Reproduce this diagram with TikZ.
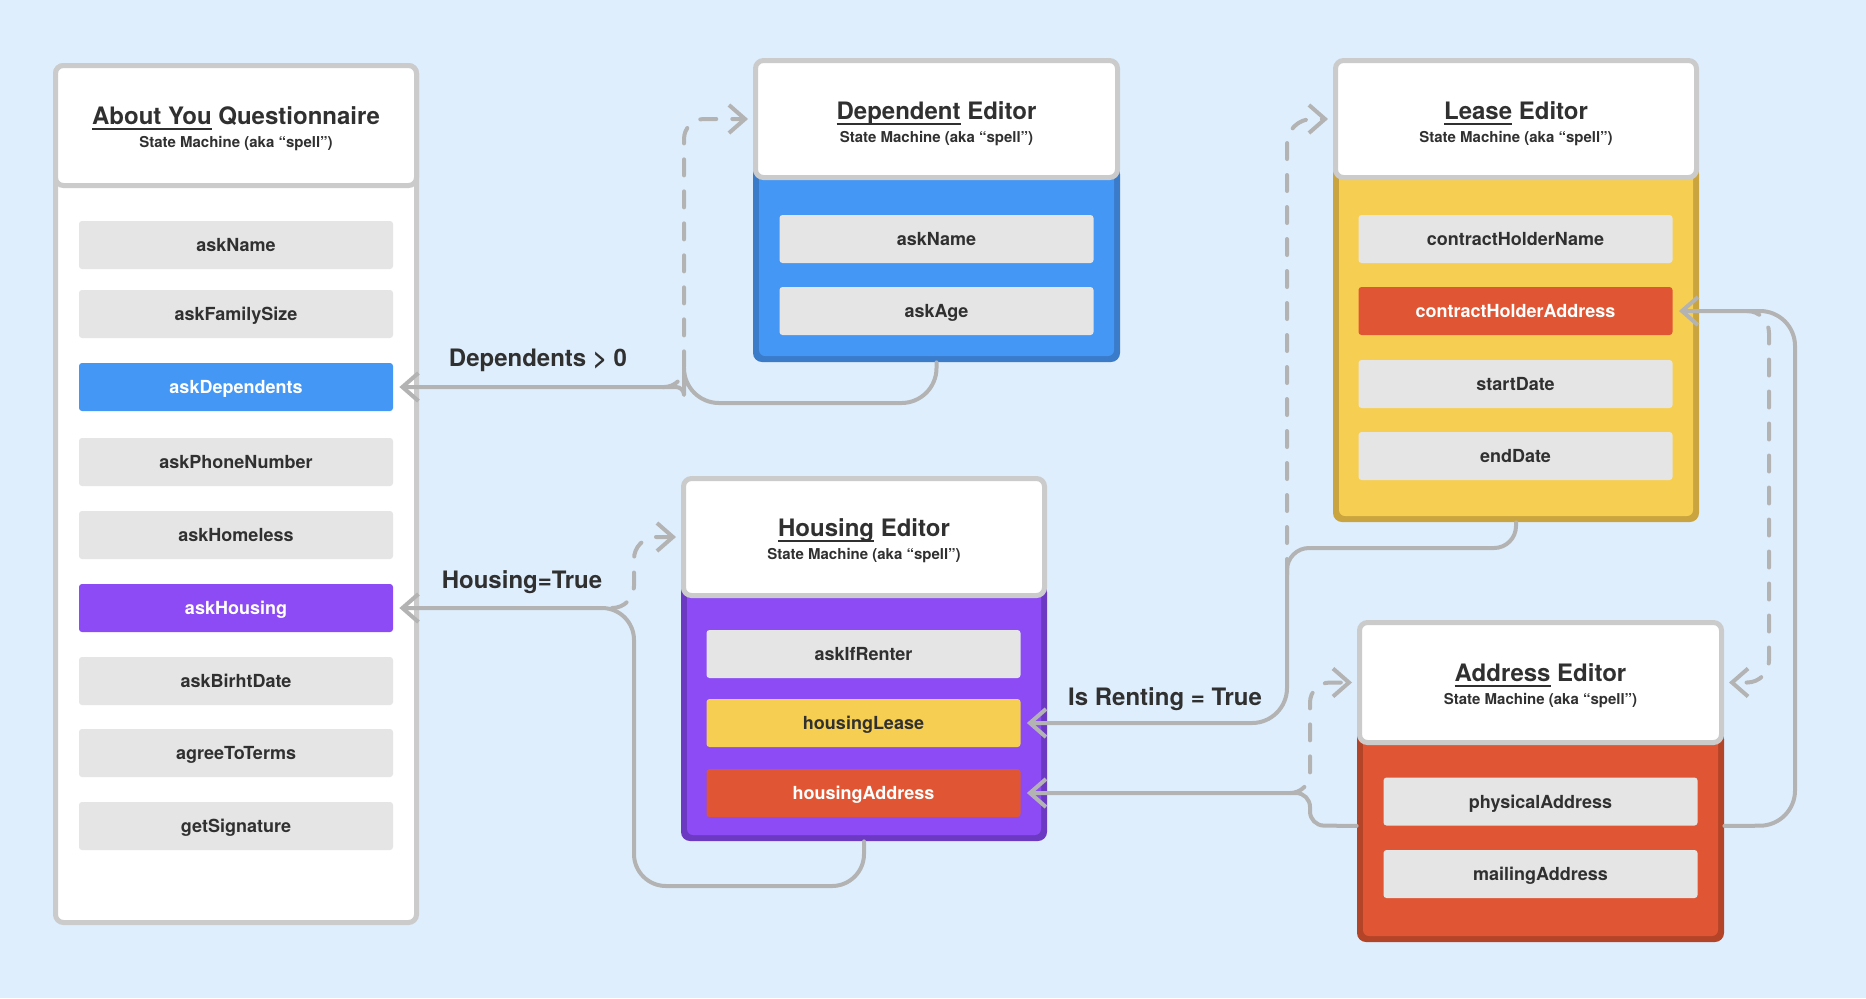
\documentclass[tikz,border=0pt]{standalone}
\usepackage{fontspec}
\setmainfont{TeX Gyre Heros}
\usetikzlibrary{arrows.meta}

\newlength{\du}
\setlength{\du}{0.5pt}

\definecolor{bgblue}{RGB}{223,238,253}
\definecolor{cardgray}{RGB}{203,203,203}
\definecolor{itemgray}{RGB}{229,229,229}
\definecolor{linkgray}{RGB}{179,179,179}
\definecolor{inkgray}{RGB}{48,48,48}
\definecolor{depblue}{RGB}{69,151,245}
\definecolor{depshade}{RGB}{58,123,202}
\definecolor{housepurple}{RGB}{140,75,244}
\definecolor{houseshade}{RGB}{108,58,194}
\definecolor{leaseyellow}{RGB}{246,207,82}
\definecolor{leaseshade}{RGB}{201,164,63}
\definecolor{addrred}{RGB}{224,86,52}
\definecolor{addrshade}{RGB}{180,68,40}

\newsavebox{\ulbox}
\newcommand{\titleul}[1]{\sbox{\ulbox}{#1}\rlap{\rule[-3.2pt]{\wd\ulbox}{1.2pt}}\usebox{\ulbox}}

\tikzset{
  cardhead/.style={rectangle, draw=cardgray, line width=5\du, fill=white, rounded corners=8\du, inner sep=0pt},
  cardbody/.style={rectangle, rounded corners=9\du, inner sep=0pt},
  cardtitle/.style={font=\bfseries\fontsize{12}{14}\selectfont, text=inkgray, inner sep=0pt, anchor=base},
  cardsub/.style={font=\bfseries\fontsize{7.5}{9}\selectfont, text=inkgray, inner sep=0pt, anchor=base},
  stateitem/.style={rectangle, rounded corners=3\du, fill=itemgray, minimum width=314\du, minimum height=48\du,
    inner sep=0pt, text height=6.5pt, text depth=0pt, font=\bfseries\fontsize{9}{11}\selectfont, text=inkgray},
  flowline/.style={draw=linkgray, line width=4\du, line cap=round, line join=round,
    -{Straight Barb[length=8pt,width=14pt]}},
  flowdash/.style={flowline, dash pattern=on 8pt off 8pt},
  flowlabel/.style={font=\bfseries\fontsize{12}{14}\selectfont, text=inkgray, inner sep=0pt, anchor=base}
}

\begin{document}
\begin{tikzpicture}[x=\du,y=\du]
\pgftransformyscale{-1.000000}
\fill[bgblue] (0,0) rectangle (1866,998);
\useasboundingbox (0,0) rectangle (1866,998);

% about you questionnaire
\node[cardhead, minimum width=361\du, minimum height=857\du] (aboutBody) at (236,494) {};
\node[cardhead, minimum width=361\du, minimum height=120\du] (aboutHead) at (236,125.5) {};
\node[cardtitle] (aboutTitle) at (236,124) {\titleul{About You} Questionnaire};
\node[cardsub] (aboutSub) at (236,147) {State Machine (aka “spell”)};
\node[stateitem] (qName) at (236,245) {askName};
\node[stateitem] (qFamilySize) at (236,314) {askFamilySize};
\node[stateitem, fill=depblue, text=white] (qDependents) at (236,387) {askDependents};
\node[stateitem] (qPhone) at (236,462) {askPhoneNumber};
\node[stateitem] (qHomeless) at (236,535) {askHomeless};
\node[stateitem, fill=housepurple, text=white] (qHousing) at (236,608) {askHousing};
\node[stateitem] (qBirth) at (236,681) {askBirhtDate};
\node[stateitem] (qTerms) at (236,753) {agreeToTerms};
\node[stateitem] (qSignature) at (236,826) {getSignature};

% dependent editor
\node[cardbody, fill=depshade, minimum width=367\du, minimum height=197\du] (depBody) at (936.5,263.5) {};
\fill[depblue, rounded corners=6\du] (759,165) rectangle (1114,356);
\node[cardhead, minimum width=362\du, minimum height=117\du] (depHead) at (936.5,119) {};
\node[cardtitle] (depTitle) at (936.5,119) {\titleul{Dependent} Editor};
\node[cardsub] (depSub) at (936.5,142) {State Machine (aka “spell”)};
\node[stateitem] (dName) at (936.5,239) {askName};
\node[stateitem] (dAge) at (936.5,311) {askAge};

% lease editor
\node[cardbody, fill=leaseshade, minimum width=366\du, minimum height=357\du] (leaseBody) at (1516,343.5) {};
\fill[leaseyellow, rounded corners=6\du] (1339,165) rectangle (1693,516);
\node[cardhead, minimum width=361\du, minimum height=117\du] (leaseHead) at (1516,119) {};
\node[cardtitle] (leaseTitle) at (1516,119) {\titleul{Lease} Editor};
\node[cardsub] (leaseSub) at (1516,142) {State Machine (aka “spell”)};
\node[stateitem] (lHolderName) at (1515.5,239) {contractHolderName};
\node[stateitem, fill=addrred, text=white] (lHolderAddress) at (1515.5,311) {contractHolderAddress};
\node[stateitem] (lStart) at (1515.5,384) {startDate};
\node[stateitem] (lEnd) at (1515.5,456) {endDate};

% housing editor
\node[cardbody, fill=houseshade, minimum width=366\du, minimum height=258\du] (houseBody) at (864,712) {};
\fill[housepurple, rounded corners=6\du] (687,583) rectangle (1041,835);
\node[cardhead, minimum width=361\du, minimum height=117\du] (houseHead) at (864,537) {};
\node[cardtitle] (houseTitle) at (864,536) {\titleul{Housing} Editor};
\node[cardsub] (houseSub) at (864,559) {State Machine (aka “spell”)};
\node[stateitem] (hRenter) at (863.5,654) {askIfRenter};
\node[stateitem, fill=leaseyellow] (hLease) at (863.5,723) {housingLease};
\node[stateitem, fill=addrred, text=white] (hAddress) at (863.5,793) {housingAddress};

% address editor
\node[cardbody, fill=addrshade, minimum width=367\du, minimum height=212\du] (addrBody) at (1540.5,836) {};
\fill[addrred, rounded corners=6\du] (1363,730) rectangle (1718,936);
\node[cardhead, minimum width=362\du, minimum height=120\du] (addrHead) at (1540.5,682.5) {};
\node[cardtitle] (addrTitle) at (1540.5,681) {\titleul{Address} Editor};
\node[cardsub] (addrSub) at (1540.5,704) {State Machine (aka “spell”)};
\node[stateitem] (aPhysical) at (1540.5,801.5) {physicalAddress};
\node[stateitem] (aMailing) at (1540.5,874) {mailingAddress};

% rule labels
\node[flowlabel] (depRule) at (538,366) {Dependents > 0};
\node[flowlabel] (houseRule) at (522,588) {Housing=True};
\node[flowlabel] (rentRule) at (1165,705) {Is Renting = True};

% forks where the dashed calls leave the return lines
\coordinate (depFork) at (663,387);
\coordinate (houseFork) at (612,608);
\coordinate (rentFork) at (1287,575);
\coordinate (addrFork) at (1290,793);
\coordinate (holderFork) at (1750,311);

% dependents
\draw[flowline, rounded corners=35\du] (depBody.south) -- (936.5,403) -- (684,403) [rounded corners=8\du] -- (684,387) -- ([xshift=6\du]qDependents.east);
\draw[flowdash, rounded corners=20\du] (depFork) -- (684,387) -- (684,119) -- ([xshift=-5\du]depHead.west);

% housing
\draw[flowline, rounded corners=32\du] (houseBody.south) -- (864,886) -- (634,886) -- (634,608) -- ([xshift=6\du]qHousing.east);
\draw[flowdash, rounded corners=22\du] (houseFork) -- (634,608) -- (634,537) -- ([xshift=-5\du]houseHead.west);

% renting
\draw[flowline, rounded corners=22\du] (leaseBody.south) -- (1516,548) -- (1287,548) [rounded corners=35\du] -- (1287,723) -- ([xshift=6\du]hLease.east);
\draw[flowdash, rounded corners=25\du] (rentFork) -- (1287,119) -- ([xshift=-5\du]leaseHead.west);

% housing address
\draw[flowline, rounded corners=14\du] (addrBody.west |- aPhysical.south) -- (1310,825.5) -- (1310,793) -- ([xshift=6\du]hAddress.east);
\draw[flowdash, rounded corners=20\du] (addrFork) -- (1310,793) -- (1310,682.5) -- ([xshift=-5\du]addrHead.west);

% contract holder address
\draw[flowline, rounded corners=35\du] (addrBody.east |- aPhysical.south) -- (1795,825.5) -- (1795,311) -- ([xshift=6\du]lHolderAddress.east);
\draw[flowdash, rounded corners=22\du] (holderFork) -- (1769,311) -- (1769,682.5) -- ([xshift=5\du]addrHead.east);
\end{tikzpicture}
\end{document}
